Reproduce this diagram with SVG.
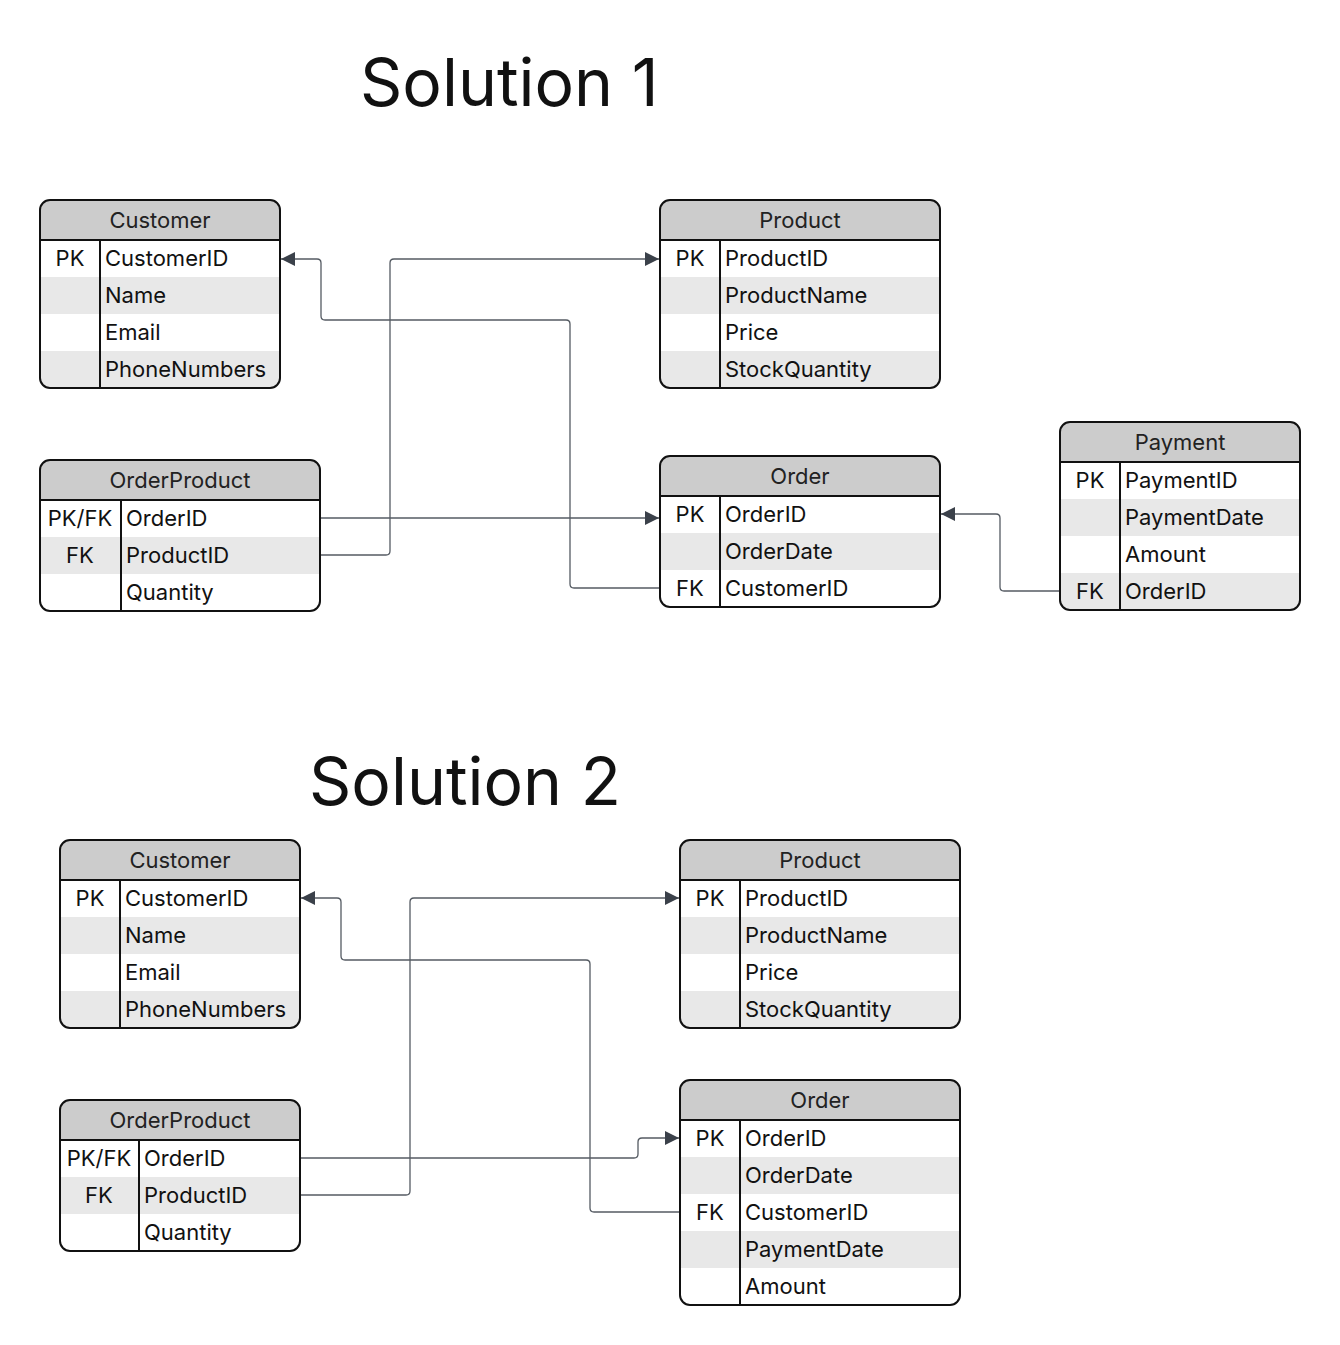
<svg xmlns="http://www.w3.org/2000/svg" width="1340" height="1345" viewBox="0 0 1340 1345">
<style>
text{font-family:Inter,"Noto Sans","Liberation Sans",sans-serif;fill:#111;}
.title{font-size:66px;}
.hd{font-size:22px;text-anchor:middle;fill:#222;}
.f{font-size:22px;}
.k{font-size:22px;text-anchor:middle;}
.hfill{fill:#cccccc;}
.alt{fill:#e8e8e8;}
.wh{fill:#ffffff;}
.bd{fill:none;stroke:#111;stroke-width:2;}
.ln{stroke:#111;stroke-width:2;}
.cn{fill:none;stroke:#555b63;stroke-width:1.3;}
</style>
<defs>
<marker id="ah" viewBox="0 0 14 14" refX="14" refY="7" markerWidth="14" markerHeight="14" markerUnits="userSpaceOnUse" orient="auto">
<path d="M0,0 L14,7 L0,14 Z" fill="#3b414a"/>
</marker>
<clipPath id="c1"><rect x="40" y="200" width="240" height="188" rx="10"/></clipPath>
<clipPath id="c2"><rect x="660" y="200" width="280" height="188" rx="10"/></clipPath>
<clipPath id="c3"><rect x="40" y="460" width="280" height="151" rx="10"/></clipPath>
<clipPath id="c4"><rect x="660" y="456" width="280" height="151" rx="10"/></clipPath>
<clipPath id="c5"><rect x="1060" y="422" width="240" height="188" rx="10"/></clipPath>
<clipPath id="c6"><rect x="60" y="840" width="240" height="188" rx="10"/></clipPath>
<clipPath id="c7"><rect x="680" y="840" width="280" height="188" rx="10"/></clipPath>
<clipPath id="c8"><rect x="60" y="1100" width="240" height="151" rx="10"/></clipPath>
<clipPath id="c9"><rect x="680" y="1080" width="280" height="225" rx="10"/></clipPath>
</defs>
<rect width="1340" height="1345" fill="#ffffff"/>
<text class="title" x="360" y="106">Solution 1</text>
<text class="title" x="309" y="805">Solution 2</text>

<g id="connectors">
<path class="cn" d="M660,588 H574 Q570,588 570,584 V324 Q570,320 566,320 H325 Q321,320 321,316 V263 Q321,259 317,259 H281" marker-end="url(#ah)"/>
<path class="cn" d="M320,555 H386 Q390,555 390,551 V263 Q390,259 394,259 H659" marker-end="url(#ah)"/>
<path class="cn" d="M320,518 H659" marker-end="url(#ah)"/>
<path class="cn" d="M1060,591 H1004 Q1000,591 1000,587 V518 Q1000,514 996,514 H941" marker-end="url(#ah)"/>
<path class="cn" d="M680,1212 H594 Q590,1212 590,1208 V964 Q590,960 586,960 H345 Q341,960 341,956 V902 Q341,898 337,898 H301" marker-end="url(#ah)"/>
<path class="cn" d="M300,1195 H406 Q410,1195 410,1191 V902 Q410,898 414,898 H679" marker-end="url(#ah)"/>
<path class="cn" d="M300,1158 H634 Q638,1158 638,1154 V1142 Q638,1138 642,1138 H679" marker-end="url(#ah)"/>
</g>

<g id="s1-customer">
<g clip-path="url(#c1)">
<rect class="wh" x="40" y="200" width="240" height="188"/>
<rect class="hfill" x="40" y="200" width="240" height="40"/>
<rect class="alt" x="40" y="277" width="240" height="37"/>
<rect class="alt" x="40" y="351" width="240" height="37"/>
</g>
<line class="ln" x1="40" y1="240" x2="280" y2="240"/>
<line class="ln" x1="100" y1="240" x2="100" y2="388"/>
<rect class="bd" x="40" y="200" width="240" height="188" rx="10"/>
<text class="hd" x="160" y="228">Customer</text>
<text class="k" x="70" y="266">PK</text>
<text class="f" x="105" y="266">CustomerID</text>
<text class="f" x="105" y="303">Name</text>
<text class="f" x="105" y="340">Email</text>
<text class="f" x="105" y="377">PhoneNumbers</text>
</g>

<g id="s1-product">
<g clip-path="url(#c2)">
<rect class="wh" x="660" y="200" width="280" height="188"/>
<rect class="hfill" x="660" y="200" width="280" height="40"/>
<rect class="alt" x="660" y="277" width="280" height="37"/>
<rect class="alt" x="660" y="351" width="280" height="37"/>
</g>
<line class="ln" x1="660" y1="240" x2="940" y2="240"/>
<line class="ln" x1="720" y1="240" x2="720" y2="388"/>
<rect class="bd" x="660" y="200" width="280" height="188" rx="10"/>
<text class="hd" x="800" y="228">Product</text>
<text class="k" x="690" y="266">PK</text>
<text class="f" x="725" y="266">ProductID</text>
<text class="f" x="725" y="303">ProductName</text>
<text class="f" x="725" y="340">Price</text>
<text class="f" x="725" y="377">StockQuantity</text>
</g>

<g id="s1-orderproduct">
<g clip-path="url(#c3)">
<rect class="wh" x="40" y="460" width="280" height="151"/>
<rect class="hfill" x="40" y="460" width="280" height="40"/>
<rect class="alt" x="40" y="537" width="280" height="37"/>
</g>
<line class="ln" x1="40" y1="500" x2="320" y2="500"/>
<line class="ln" x1="121" y1="500" x2="121" y2="611"/>
<rect class="bd" x="40" y="460" width="280" height="151" rx="10"/>
<text class="hd" x="180" y="488">OrderProduct</text>
<text class="k" x="80" y="526">PK/FK</text>
<text class="f" x="126" y="526">OrderID</text>
<text class="k" x="80" y="563">FK</text>
<text class="f" x="126" y="563">ProductID</text>
<text class="f" x="126" y="600">Quantity</text>
</g>

<g id="s1-order">
<g clip-path="url(#c4)">
<rect class="wh" x="660" y="456" width="280" height="151"/>
<rect class="hfill" x="660" y="456" width="280" height="40"/>
<rect class="alt" x="660" y="533" width="280" height="37"/>
</g>
<line class="ln" x1="660" y1="496" x2="940" y2="496"/>
<line class="ln" x1="720" y1="496" x2="720" y2="607"/>
<rect class="bd" x="660" y="456" width="280" height="151" rx="10"/>
<text class="hd" x="800" y="484">Order</text>
<text class="k" x="690" y="522">PK</text>
<text class="f" x="725" y="522">OrderID</text>
<text class="f" x="725" y="559">OrderDate</text>
<text class="k" x="690" y="596">FK</text>
<text class="f" x="725" y="596">CustomerID</text>
</g>

<g id="s1-payment">
<g clip-path="url(#c5)">
<rect class="wh" x="1060" y="422" width="240" height="188"/>
<rect class="hfill" x="1060" y="422" width="240" height="40"/>
<rect class="alt" x="1060" y="499" width="240" height="37"/>
<rect class="alt" x="1060" y="573" width="240" height="37"/>
</g>
<line class="ln" x1="1060" y1="462" x2="1300" y2="462"/>
<line class="ln" x1="1120" y1="462" x2="1120" y2="610"/>
<rect class="bd" x="1060" y="422" width="240" height="188" rx="10"/>
<text class="hd" x="1180" y="450">Payment</text>
<text class="k" x="1090" y="488">PK</text>
<text class="f" x="1125" y="488">PaymentID</text>
<text class="f" x="1125" y="525">PaymentDate</text>
<text class="f" x="1125" y="562">Amount</text>
<text class="k" x="1090" y="599">FK</text>
<text class="f" x="1125" y="599">OrderID</text>
</g>

<g id="s2-customer">
<g clip-path="url(#c6)">
<rect class="wh" x="60" y="840" width="240" height="188"/>
<rect class="hfill" x="60" y="840" width="240" height="40"/>
<rect class="alt" x="60" y="917" width="240" height="37"/>
<rect class="alt" x="60" y="991" width="240" height="37"/>
</g>
<line class="ln" x1="60" y1="880" x2="300" y2="880"/>
<line class="ln" x1="120" y1="880" x2="120" y2="1028"/>
<rect class="bd" x="60" y="840" width="240" height="188" rx="10"/>
<text class="hd" x="180" y="868">Customer</text>
<text class="k" x="90" y="906">PK</text>
<text class="f" x="125" y="906">CustomerID</text>
<text class="f" x="125" y="943">Name</text>
<text class="f" x="125" y="980">Email</text>
<text class="f" x="125" y="1017">PhoneNumbers</text>
</g>

<g id="s2-product">
<g clip-path="url(#c7)">
<rect class="wh" x="680" y="840" width="280" height="188"/>
<rect class="hfill" x="680" y="840" width="280" height="40"/>
<rect class="alt" x="680" y="917" width="280" height="37"/>
<rect class="alt" x="680" y="991" width="280" height="37"/>
</g>
<line class="ln" x1="680" y1="880" x2="960" y2="880"/>
<line class="ln" x1="740" y1="880" x2="740" y2="1028"/>
<rect class="bd" x="680" y="840" width="280" height="188" rx="10"/>
<text class="hd" x="820" y="868">Product</text>
<text class="k" x="710" y="906">PK</text>
<text class="f" x="745" y="906">ProductID</text>
<text class="f" x="745" y="943">ProductName</text>
<text class="f" x="745" y="980">Price</text>
<text class="f" x="745" y="1017">StockQuantity</text>
</g>

<g id="s2-orderproduct">
<g clip-path="url(#c8)">
<rect class="wh" x="60" y="1100" width="240" height="151"/>
<rect class="hfill" x="60" y="1100" width="240" height="40"/>
<rect class="alt" x="60" y="1177" width="240" height="37"/>
</g>
<line class="ln" x1="60" y1="1140" x2="300" y2="1140"/>
<line class="ln" x1="139" y1="1140" x2="139" y2="1251"/>
<rect class="bd" x="60" y="1100" width="240" height="151" rx="10"/>
<text class="hd" x="180" y="1128">OrderProduct</text>
<text class="k" x="99" y="1166">PK/FK</text>
<text class="f" x="144" y="1166">OrderID</text>
<text class="k" x="99" y="1203">FK</text>
<text class="f" x="144" y="1203">ProductID</text>
<text class="f" x="144" y="1240">Quantity</text>
</g>

<g id="s2-order">
<g clip-path="url(#c9)">
<rect class="wh" x="680" y="1080" width="280" height="225"/>
<rect class="hfill" x="680" y="1080" width="280" height="40"/>
<rect class="alt" x="680" y="1157" width="280" height="37"/>
<rect class="alt" x="680" y="1231" width="280" height="37"/>
</g>
<line class="ln" x1="680" y1="1120" x2="960" y2="1120"/>
<line class="ln" x1="740" y1="1120" x2="740" y2="1305"/>
<rect class="bd" x="680" y="1080" width="280" height="225" rx="10"/>
<text class="hd" x="820" y="1108">Order</text>
<text class="k" x="710" y="1146">PK</text>
<text class="f" x="745" y="1146">OrderID</text>
<text class="f" x="745" y="1183">OrderDate</text>
<text class="k" x="710" y="1220">FK</text>
<text class="f" x="745" y="1220">CustomerID</text>
<text class="f" x="745" y="1257">PaymentDate</text>
<text class="f" x="745" y="1294">Amount</text>
</g>
</svg>
